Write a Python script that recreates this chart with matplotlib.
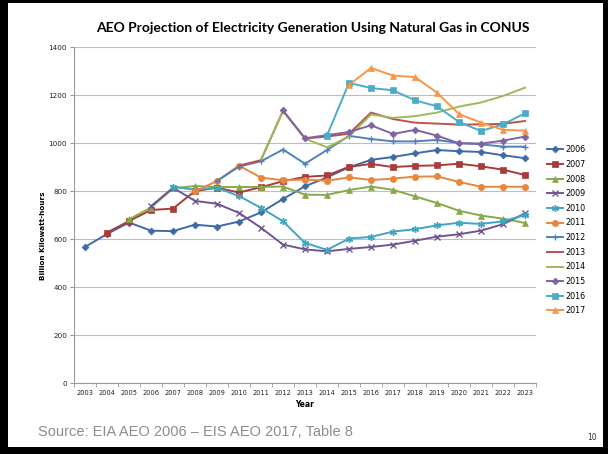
import matplotlib
matplotlib.use("Agg")
import matplotlib.pyplot as plt
from matplotlib.patches import Rectangle

years = list(range(2003, 2024))
year_labels = [str(y) for y in years]

s2006 = [568, 622, 670, 636, 634, 661, 653, 674, 712, 768, 821, 858, 900, 931, 943, 958, 972, 967, 964, 950, 938]
s2007 = [628, 676, 722, 728, 801, 815, 795, 817, 842, 860, 866, 902, 914, 901, 906, 908, 915, 904, 890, 868]
s2008 = [683, 732, 812, 822, 818, 818, 818, 820, 786, 785, 805, 820, 806, 779, 751, 719, 699, 686, 668]
s2009 = [738, 815, 760, 748, 710, 648, 578, 558, 550, 560, 568, 578, 594, 611, 621, 636, 663, 708]
s2010 = [820, 806, 815, 780, 731, 675, 585, 556, 603, 610, 632, 642, 658, 669, 664, 675, 701]
s2011 = [800, 843, 907, 857, 846, 849, 844, 858, 847, 853, 861, 862, 839, 819, 819, 819]
s2012 = [843, 903, 925, 974, 915, 972, 1031, 1018, 1008, 1008, 1014, 1001, 996, 986, 986]
s2013 = [907, 930, 1135, 1020, 1028, 1040, 1128, 1101, 1086, 1082, 1078, 1079, 1081, 1093]
s2014 = [932, 1135, 1020, 983, 1028, 1120, 1106, 1113, 1128, 1153, 1170, 1197, 1232]
s2015 = [1137, 1021, 1034, 1047, 1075, 1039, 1056, 1032, 1000, 999, 1011, 1028]
s2016 = [1032, 1252, 1230, 1221, 1179, 1154, 1089, 1051, 1079, 1125]
s2017 = [1243, 1314, 1282, 1276, 1211, 1122, 1086, 1056, 1053]

series_names = ["2006", "2007", "2008", "2009", "2010", "2011",
                "2012", "2013", "2014", "2015", "2016", "2017"]
series_values = [s2006, s2007, s2008, s2009, s2010, s2011,
                 s2012, s2013, s2014, s2015, s2016, s2017]

colors = ["#3E6BA6", "#A93B3A", "#87A94B", "#6E5694", "#3FA5C0", "#E5873D",
          "#4F81BD", "#C0504D", "#9BBB59", "#8064A2", "#4BACC6", "#F79646"]
markers = ["D", "s", "^", "x", (6, 2, 0), "o", "+", None, None, "D", "s", "^"]
msizes = [3.5, 4.5, 4.5, 4.5, 5, 4.5, 5, 0, 0, 3.5, 4.5, 4.5]

W, H = 608, 454
fig = plt.figure(figsize=(W / 100, H / 100), dpi=100)
fig.patch.set_facecolor("black")
fig.patches.append(Rectangle((8 / W, 1 - 447 / H), (603 - 8) / W, (447 - 3) / H,
                             transform=fig.transFigure, facecolor="white",
                             edgecolor="none", zorder=-10))

ax_l, ax_r = 74 / W, 536 / W
ax_t, ax_b = 1 - 47.3 / H, 1 - 383.3 / H
ax = fig.add_axes([ax_l, ax_b, ax_r - ax_l, ax_t - ax_b])
ax.set_facecolor("none")

for name, vals, c, m, ms in zip(series_names, series_values, colors, markers, msizes):
    xs = years[len(years) - len(vals):]
    ax.plot(xs, vals, color=c, lw=1.4, marker=m, markersize=ms,
            markeredgewidth=1.0 if m in ("x", "+", (6, 2, 0)) else 0.5,
            markeredgecolor=c, markerfacecolor=c, label=name)

ax.set_xlim(2002.5, 2023.5)
ax.set_ylim(0, 1400)
ax.set_yticks(range(0, 1401, 200))
ax.yaxis.grid(True, color="#BDBDBD", lw=0.8)
ax.set_axisbelow(True)
ax.set_xticks(years)
ax.set_xticklabels(year_labels, fontsize=4.8, color="#222222")
ax.set_xticks([y + 0.5 for y in range(2002, 2024)], minor=True)
ax.tick_params(axis="x", which="major", length=0, pad=5)
ax.tick_params(axis="x", which="minor", length=3, color="#999999", direction="out")
ax.tick_params(axis="y", labelsize=5.2, length=3, color="#999999", labelcolor="#222222", pad=2)
for sp in ["top", "right"]:
    ax.spines[sp].set_visible(False)
ax.spines["left"].set_color("#999999")
ax.spines["bottom"].set_color("#999999")
ax.spines["left"].set_linewidth(0.8)
ax.spines["bottom"].set_linewidth(0.8)

ax.set_xlabel("Year", fontsize=5.5, fontweight="bold", labelpad=3)
fig.text(43 / W, 1 - 236 / H, "Billion Kilowatt-hours", rotation=90, fontsize=5.2,
         fontweight="bold", ha="center", va="center")

fig.text(313 / W, 1 - 28 / H, "AEO Projection of Electricity Generation Using Natural Gas in CONUS",
         fontsize=10, fontweight="bold", ha="center", va="center", family="Lato")

handles, labels = ax.get_legend_handles_labels()
leg = fig.legend(handles, labels, loc="upper left", bbox_to_anchor=(544 / W, 1 - 142 / H),
                 frameon=False, fontsize=5.8, handlelength=2.0, handletextpad=0.3,
                 labelspacing=0.7, borderaxespad=0)

fig.text(38 / W, 1 - 432 / H, "Source: EIA AEO 2006 \u2013 EIS AEO 2017, Table 8",
         fontsize=10.5, color="#8C8C8C", ha="left", va="center", family="Liberation Sans")
fig.text(592 / W, 1 - 437 / H, "10", fontsize=5.5, color="#333333", ha="center", va="center")

fig.savefig("out.png", dpi=100, facecolor=fig.get_facecolor())
